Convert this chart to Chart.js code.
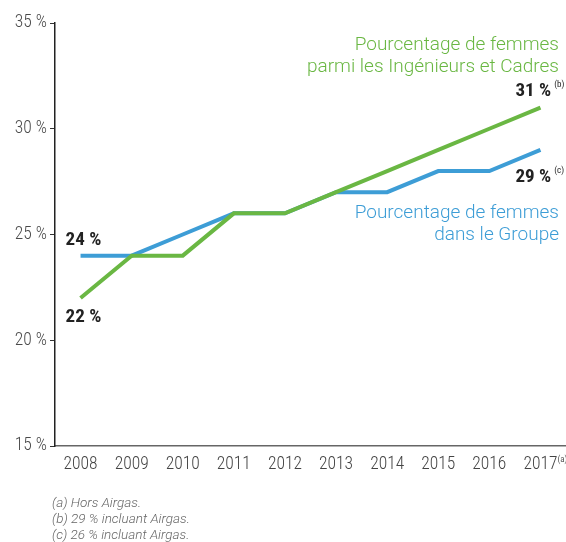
<!DOCTYPE html>
<html>
<head>
<meta charset="utf-8">
<script src="https://cdn.jsdelivr.net/npm/chart.js@4.4.0/dist/chart.umd.min.js"></script>
<style>
  html, body { margin: 0; padding: 0; background: #fff; }
  #wrap { position: relative; width: 566px; height: 542px; }
  #notes {
    position: absolute; left: 52px; top: 494px;
    font: italic 300 13.5px Roboto, "Liberation Sans", sans-serif;
    color: #666; line-height: 16px;
  }
</style>
</head>
<body>
<div id="wrap">
  <canvas id="chartFemmes" width="566" height="542"></canvas>
  <div id="notes">
    (a) Hors Airgas.<br>
    (b) 29 % incluant Airgas.<br>
    (c) 26 % incluant Airgas.
  </div>
</div>
<script>
// data kebaca dari gambar
const annees = ['2008','2009','2010','2011','2012','2013','2014','2015','2016','2017'];
const ingenieursCadres = [22, 24, 24, 26, 26, 27, 28, 29, 30, 31];
const groupe = [24, 24, 25, 26, 26, 27, 27, 28, 28, 29];
const yTicks = [15, 20, 25, 30, 35];

const VERT = '#6ab743';
const BLEU = '#3d9dd6';
const COND = '"Roboto Condensed", "Liberation Sans", sans-serif';
const REG = 'Roboto, "Liberation Sans", sans-serif';

// plugin buat tulisan2 di atas chart
const labelPlugin = {
  id: 'labelFemmes',
  afterDraw(chart) {
    const ctx = chart.ctx;
    const x = chart.scales.x, y = chart.scales.y;
    const last = annees.length - 1;
    ctx.save();

    // judul seri
    ctx.textAlign = 'right';
    ctx.textBaseline = 'alphabetic';
    ctx.font = '300 19px ' + REG;
    const rx = chart.chartArea.right - 7;
    ctx.fillStyle = VERT;
    ctx.fillText('Pourcentage de femmes', rx, 50);
    ctx.fillText('parmi les Ingénieurs et Cadres', rx, 72);
    ctx.fillStyle = BLEU;
    ctx.fillText('Pourcentage de femmes', rx, 218);
    ctx.fillText('dans le Groupe', rx, 240);

    // nilai
    ctx.textAlign = 'left';
    ctx.fillStyle = '#222';
    const val = (txt, sup, px, py) => {
      ctx.font = 'bold 19px ' + COND;
      ctx.fillText(txt, px, py);
      if (sup) {
        const w = ctx.measureText(txt).width;
        ctx.font = '9px ' + COND;
        ctx.fillText(sup, px + w + 3, py - 9);
      }
    };
    const x0 = x.getPixelForValue(0), xl = x.getPixelForValue(last);
    val(groupe[0] + ' %', null, x0 - 15, y.getPixelForValue(groupe[0]) - 11);
    val(ingenieursCadres[0] + ' %', null, x0 - 15, y.getPixelForValue(ingenieursCadres[0]) + 24);
    val(ingenieursCadres[last] + ' %', '(b)', xl - 25, y.getPixelForValue(ingenieursCadres[last]) - 12);
    val(groupe[last] + ' %', '(c)', xl - 25, y.getPixelForValue(groupe[last]) + 32);

    // (a) di sebelah 2017
    ctx.font = '9px ' + COND;
    ctx.fillStyle = '#555';
    ctx.fillText('(a)', xl + 17, 462);
    ctx.restore();
  }
};

const data = {
  labels: annees,
  datasets: [
    {
      label: 'Pourcentage de femmes parmi les Ingénieurs et Cadres',
      data: ingenieursCadres,
      borderColor: VERT,
    },
    {
      label: 'Pourcentage de femmes dans le Groupe',
      data: groupe,
      borderColor: BLEU,
    }
  ]
};

const chartConfig = {
  type: 'line',
  data: data,
  options: {
    responsive: false,
    animation: false,
    layout: { padding: { top: 23, right: 0, bottom: 0, left: 0 } },
    elements: {
      line: { borderWidth: 4, tension: 0, borderCapStyle: 'butt', borderJoinStyle: 'miter' },
      point: { radius: 0, hoverRadius: 0 }
    },
    plugins: {
      legend: { display: false },
      tooltip: { enabled: false }
    },
    scales: {
      x: {
        type: 'category',
        offset: true,
        grid: { display: false, drawTicks: false },
        border: { display: true, color: '#666', width: 1.5 },
        ticks: {
          color: '#444',
          padding: 8,
          maxRotation: 0,
          autoSkip: false,
          font: { family: COND, size: 17.5, weight: 300 }
        },
        afterFit(scale) {
          scale.height = 96;
          scale.paddingLeft = 0;
          scale.paddingRight = 0;
        }
      },
      y: {
        min: 15,
        max: 35,
        afterBuildTicks(scale) { scale.ticks = yTicks.map(v => ({ value: v })); },
        grid: { drawOnChartArea: false, drawTicks: true, tickLength: 5, color: '#333', lineWidth: 1 },
        border: { display: true, color: '#222', width: 1.5 },
        ticks: {
          color: '#4a4a4a',
          padding: 3,
          font: { family: COND, size: 17.5, weight: 300 },
          callback: (v) => v + ' %'
        },
        afterFit(scale) { scale.width = 55; }
      }
    }
  },
  plugins: [labelPlugin]
};

var ctx = document.getElementById('chartFemmes');
var wadahChart = new Chart(ctx, chartConfig);
</script>
</body>
</html>
